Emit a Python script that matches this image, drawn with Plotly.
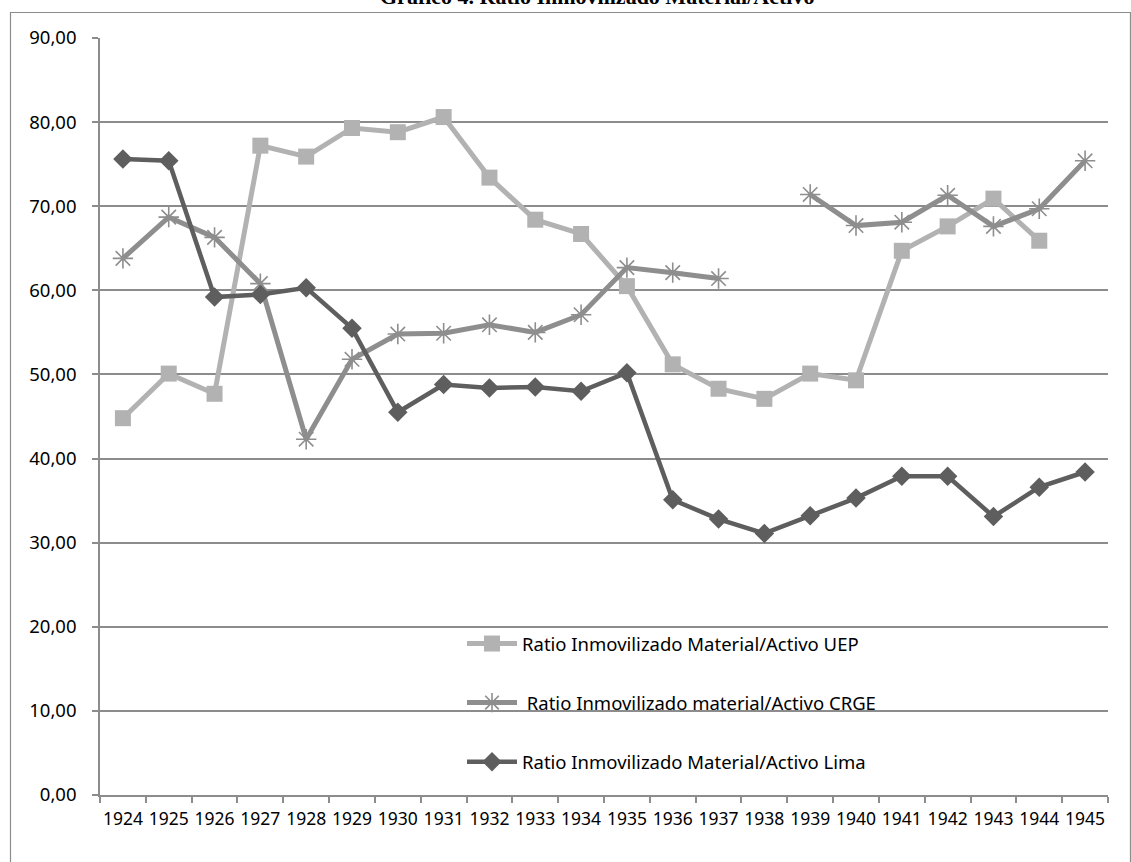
import plotly.graph_objects as go

years = [str(y) for y in range(1924, 1946)]

uep = [44.8, 50.1, 47.7, 77.2, 75.9, 79.3, 78.8, 80.6, 73.4, 68.4, 66.7,
       60.5, 51.2, 48.3, 47.1, 50.1, 49.3, 64.7, 67.6, 70.9, 65.9, None]
crge = [63.8, 68.7, 66.3, 60.8, 42.3, 51.8, 54.8, 54.9, 55.9, 55.0, 57.1,
        62.7, 62.1, 61.4, None, 71.4, 67.7, 68.1, 71.3, 67.6, 69.7, 75.4]
lima = [75.6, 75.4, 59.2, 59.5, 60.3, 55.5, 45.5, 48.8, 48.4, 48.5, 48.0,
        50.2, 35.1, 32.8, 31.1, 33.2, 35.3, 37.9, 37.9, 33.1, 36.6, 38.4]

W, H = 1131, 862
L, R, T, B = 100, 23, 38, 67
pw, ph = W - L - R, H - T - B

def px_x(p):
    return (p - L) / pw

def px_y(p):
    return (H - B - p) / ph

fig = go.Figure()

fig.add_trace(go.Scatter(
    x=years, y=uep, mode="lines+markers",
    name="Ratio Inmovilizado Material/Activo UEP",
    line=dict(color="#b2b2b2", width=5),
    marker=dict(symbol="square", size=16, color="#b2b2b2"),
    legendgroup="a", connectgaps=False,
))
fig.add_trace(go.Scatter(
    x=years, y=crge, mode="lines+markers",
    name=" Ratio Inmovilizado material/Activo CRGE",
    line=dict(color="#8e8e8e", width=5),
    marker=dict(symbol="asterisk-open", size=17,
                line=dict(color="#8e8e8e", width=1.6)),
    legendgroup="b", connectgaps=False,
))
fig.add_trace(go.Scatter(
    x=years, y=lima, mode="lines+markers",
    name="Ratio Inmovilizado Material/Activo Lima",
    line=dict(color="#5e5e5e", width=4.5),
    marker=dict(symbol="diamond", size=15, color="#5e5e5e"),
    legendgroup="c",
))

# Outer frame around the chart
fig.add_shape(type="rect", xref="paper", yref="paper",
              x0=px_x(10.5), x1=px_x(1130.5), y0=px_y(880), y1=px_y(12.5),
              line=dict(color="#8c8c8c", width=1.2), layer="below")

fig.add_annotation(
    text="<b>Gráfico 4. Ratio Inmovilizado Material/Activo</b>",
    xref="paper", yref="paper", x=px_x(597), y=px_y(11),
    xanchor="center", yanchor="bottom", showarrow=False,
    font=dict(family="Liberation Serif", size=22, color="#000000"),
)

fig.update_layout(
    width=W, height=H,
    margin=dict(l=L, r=R, t=T, b=B),
    paper_bgcolor="white", plot_bgcolor="white",
    separators=",.",
    font=dict(family="Noto Sans", size=16, color="#000000"),
    showlegend=True,
    legend=dict(
        x=px_x(462), y=px_y(625), xanchor="left", yanchor="top",
        bgcolor="rgba(0,0,0,0)", tracegroupgap=32,
        font=dict(family="Noto Sans", size=18.5, color="#000000"),
        itemwidth=50,
    ),
    xaxis=dict(
        type="category", range=[-0.5, 21.5],
        showgrid=False, showline=True, linecolor="#8c8c8c", linewidth=1.5,
        ticks="outside", tickson="boundaries", ticklen=6,
        tickcolor="#8c8c8c", tickwidth=1.5,
        tickfont=dict(family="Noto Sans", size=17.5),
        tickangle=0, ticklabelstandoff=7,
    ),
    yaxis=dict(
        range=[0, 90], dtick=10, tickformat=".2f",
        showgrid=True, gridcolor="#8c8c8c", gridwidth=1.5,
        showline=True, linecolor="#8c8c8c", linewidth=1.5,
        ticks="outside", ticklen=6, tickcolor="#8c8c8c", tickwidth=1.5,
        tickfont=dict(family="Noto Sans", size=18.5),
        zeroline=False, ticklabelstandoff=12,
    ),
)

fig.write_html("out.html")
